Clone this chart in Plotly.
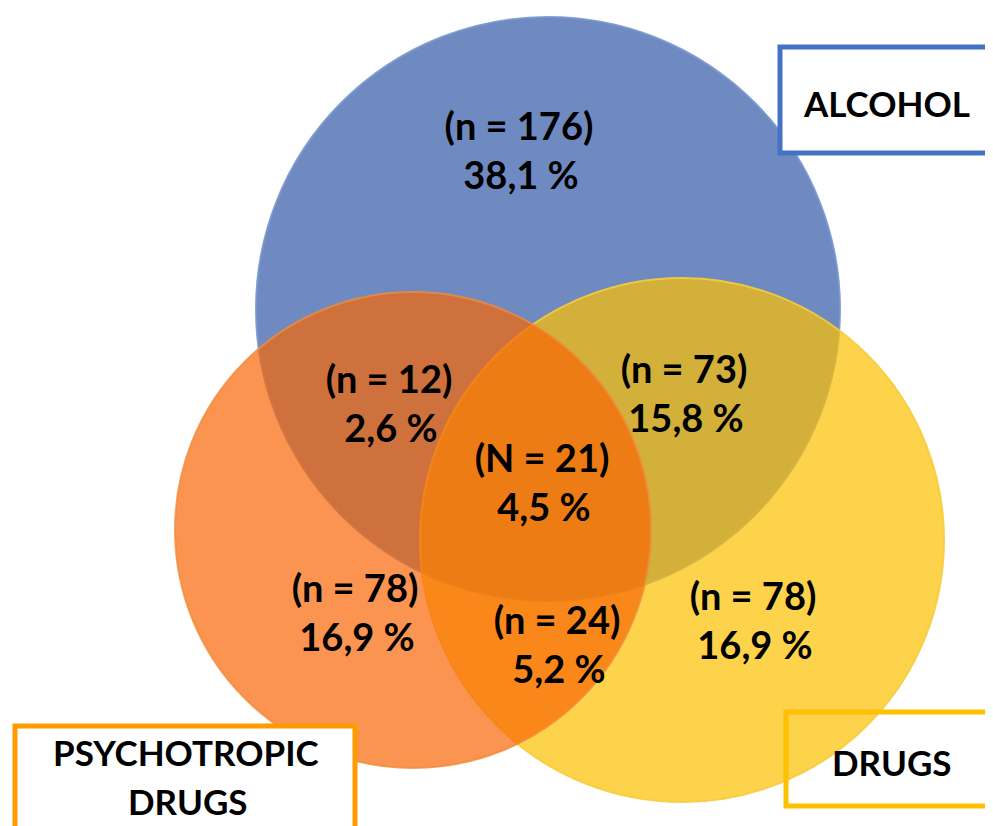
import plotly.graph_objects as go

# Venn sets
set_names = ["ALCOHOL", "PSYCHOTROPIC<br>DRUGS", "DRUGS"]

# region values: A only, A∩P, A∩D, A∩P∩D, P only, P∩D, D only
region_prefix = ["n", "n", "n", "N", "n", "n", "n"]
region_counts = [176, 12, 73, 21, 78, 24, 78]
region_pcts = [38.1, 2.6, 15.8, 4.5, 16.9, 5.2, 16.9]

# label positions (pixel space) for each region
label_x = [519, 389, 684, 542, 355, 557, 753]
label_y = [130, 383, 373, 462, 592, 624, 600]
LINE_GAP = 49

FONT = "Lato"
W, H = 993, 826
OFF = 8  # default page margin of the html body

# circles: center x, center y, radius, fill, drawn bottom to top
circles = [
    dict(cx=548, cy=309, r=292, fill="rgb(111,138,192)", line="rgba(120,150,205,0.9)"),
    dict(cx=682, cy=540, r=262, fill="rgba(252,192,0,0.70)", line="rgba(245,205,60,0.9)"),
    dict(cx=413, cy=530, r=238, fill="rgba(248,102,5,0.70)", line="rgba(240,140,60,0.8)"),
]

fig = go.Figure()

for c in circles:
    fig.add_shape(
        type="circle", xref="x", yref="y",
        x0=c["cx"] - c["r"], x1=c["cx"] + c["r"],
        y0=c["cy"] - c["r"], y1=c["cy"] + c["r"],
        fillcolor=c["fill"], line=dict(color=c["line"], width=2),
        layer="below",
    )

count_text = [f"({p} = {n})" for p, n in zip(region_prefix, region_counts)]
pct_text = [f"{v:.1f} %".replace(".", ",") for v in region_pcts]

fig.add_trace(go.Scatter(
    x=label_x, y=label_y, mode="text", text=count_text,
    textfont=dict(family=FONT, size=38, color="black", weight="bold"),
    hoverinfo="skip",
))
fig.add_trace(go.Scatter(
    x=[x + 2 for x in label_x], y=[y + LINE_GAP for y in label_y],
    mode="text", text=pct_text,
    textfont=dict(family=FONT, size=38, color="black", weight="bold"),
    hoverinfo="skip",
))

# set name boxes
fig.add_shape(type="rect", x0=780, x1=1010, y0=47, y1=153,
              line=dict(color="#4472C4", width=5), fillcolor="white", layer="above")
fig.add_shape(type="rect", x0=15, x1=355, y0=726, y1=850,
              line=dict(color="#FF9A00", width=5), fillcolor="white", layer="above")
fig.add_shape(type="rect", x0=786, x1=1010, y0=712, y1=806,
              line=dict(color="#FFC000", width=5), fillcolor="rgba(0,0,0,0)", layer="above")

box_font = dict(family=FONT, size=35, color="black", weight="bold")
fig.add_annotation(x=886, y=103, text=set_names[0], showarrow=False, font=box_font)
fig.add_annotation(x=186, y=752, text="PSYCHOTROPIC", showarrow=False, font=box_font)
fig.add_annotation(x=188, y=801, text="DRUGS", showarrow=False, font=box_font)
fig.add_annotation(x=892, y=762, text=set_names[2], showarrow=False, font=box_font)

fig.update_xaxes(range=[OFF, W + OFF], visible=False, fixedrange=True)
fig.update_yaxes(range=[H + OFF, OFF], visible=False, fixedrange=True)
fig.update_layout(
    width=W, height=H,
    margin=dict(l=0, r=0, t=0, b=0),
    plot_bgcolor="white", paper_bgcolor="white",
    showlegend=False,
)

fig.write_html("out.html")
